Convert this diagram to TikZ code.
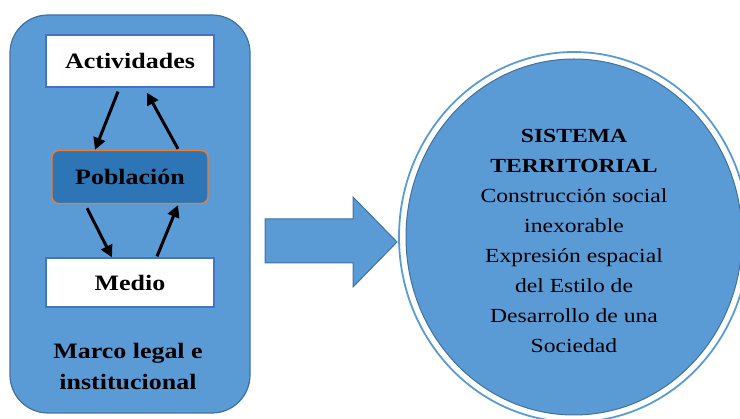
\documentclass[tikz,border=0pt]{standalone}
\usepackage{fontspec}
\setmainfont{Liberation Serif}[FakeStretch=1.18]
\usetikzlibrary{arrows.meta,shapes.geometric,calc}
\definecolor{mblue}{HTML}{5B9BD5}
\definecolor{dblue}{HTML}{41719C}
\definecolor{pblue}{HTML}{2E75B6}
\definecolor{lblue}{HTML}{4472C4}
\definecolor{orng}{HTML}{ED7D31}
\tikzset{
  frame/.style={draw=dblue,line width=1.2pt,fill=mblue,rounded corners=38pt,inner sep=0pt},
  whitebox/.style={draw=lblue,line width=1.3pt,fill=white,inner sep=0pt,minimum width=168pt,
     font=\fontsize{22pt}{26pt}\selectfont\bfseries},
  popbox/.style={draw=orng,line width=1.3pt,fill=pblue,rounded corners=7pt,inner sep=0pt,
     minimum width=156pt,minimum height=53pt,font=\fontsize{22pt}{26pt}\selectfont\bfseries},
  arr/.style={line width=3pt,-{Triangle[length=12pt,width=12pt]}},
  lbl/.style={align=center,font=\fontsize{22pt}{31pt}\selectfont\bfseries},
  circtext/.style={align=center,font=\fontsize{20pt}{30pt}\selectfont},
  blockarrow/.style={draw=dblue,line width=1pt,fill=mblue,line join=miter}
}
\begin{document}
\begin{tikzpicture}[x=1pt,y=-1pt]
\useasboundingbox (0,0) rectangle (740,419);
% left frame
\node[frame,minimum width=240pt,minimum height=398pt] (frm) at (130,214) {};
\node[whitebox,minimum height=52pt] (act) at (130,61) {Actividades};
\node[popbox] (pob) at (130,177) {Población};
\node[whitebox,minimum height=49pt] (med) at (130,282.5) {Medio};
\node[lbl] (marco) at (128,367) {Marco legal e\\institucional};
% arrows
\draw[arr] ([xshift=-12pt,yshift=-4pt]act.south) -- ([xshift=-35pt]pob.north);
\draw[arr] ([xshift=48pt,yshift=1pt]pob.north) -- ([xshift=17pt,yshift=-5pt]act.south);
\draw[arr] ([xshift=-43pt,yshift=-4pt]pob.south) -- ([xshift=-18pt]med.north);
\draw[arr] ([xshift=27pt,yshift=1pt]med.north) -- ([xshift=48pt,yshift=-1pt]pob.south);
% block arrow
\draw[blockarrow] (265,219) -- (353,219) -- (353,197) -- (397,242) -- (353,287) -- (353,263) -- (265,263) -- cycle;
% circle
\node[ellipse,draw=mblue,line width=1.8pt,minimum width=350pt,minimum height=370pt,inner sep=0pt] (ring) at (574,237) {};
\node[ellipse,draw=dblue,line width=1pt,fill=mblue,minimum width=336pt,minimum height=356pt,inner sep=0pt] (circ) at (574,237) {};
\node[circtext] (sis) at (574,241) {\textbf{SISTEMA}\\\textbf{TERRITORIAL}\\Construcción social\\inexorable\\Expresión espacial\\del Estilo de\\Desarrollo de una\\Sociedad};
\end{tikzpicture}
\end{document}
